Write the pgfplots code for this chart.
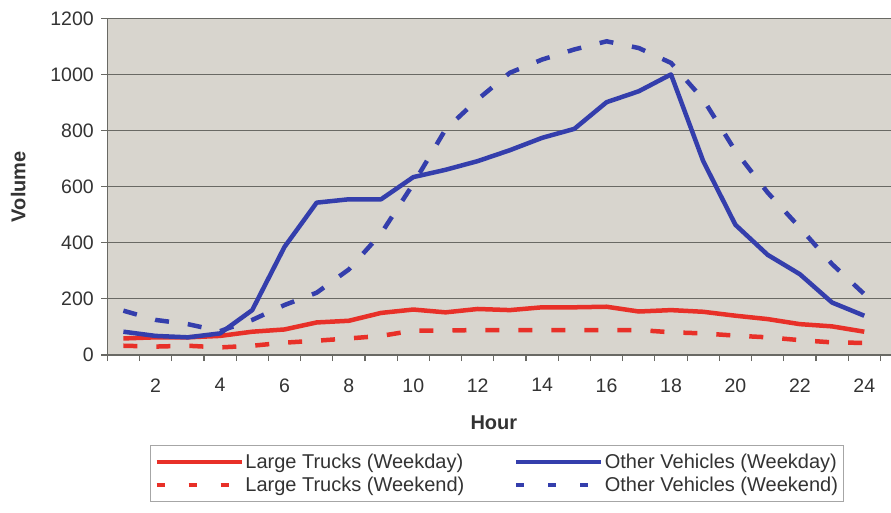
\documentclass[border=0pt]{standalone}
\usepackage{pgfplots}
\pgfplotsset{compat=1.18}
\usepackage{fontspec}
\setmainfont{Liberation Sans}

\definecolor{bgcol}{RGB}{216,213,206}
\definecolor{gridcol}{RGB}{105,105,100}
\definecolor{truckred}{RGB}{232,48,40}
\definecolor{otherblue}{RGB}{52,62,172}

\pgfplotstableread{
hour trkwd trkwe othwd othwe
1  59  33   83 158
2  63  30   68 125
3  63  33   63 110
4  68  27   77  85
5  83  33  160 125
6  91  44  385 178
7  116 51  543 222
8  122 59  555 305
9  150 68  555 433
10 162 87  634 610
11 152 87  660 804
12 164 89  691 911
13 160 89  730 1006
14 170 89  774 1053
15 170 89  806 1089
16 172 89  901 1118
17 155 89  940 1094
18 160 81  1000 1041
19 154 77  691 911
20 140 69  464 727
21 128 63  357 579
22 110 53  288 454
23 102 45  187 324
24 83  43  140 217
}\traffic

\begin{document}
\begin{tikzpicture}
\begin{axis}[
    name=ax,
    scale only axis,
    width=783.7pt, height=336.7pt,
    xmin=0.5, xmax=24.83,
    ymin=0, ymax=1200,
    ytick={0,200,...,1200},
    xtick={2,4,...,24},
    minor xtick={0.5,1.5,...,24.5},
    major x tick style={draw=none},
    tick align=outside,
    major tick length=6pt,
    minor tick length=6pt,
    tick style={gridcol, line width=1.2pt},
    axis x line*=bottom,
    axis y line*=left,
    axis line style={gridcol, line width=1.2pt},
    axis background/.style={fill=bgcol},
    ymajorgrids,
    grid style={gridcol, line width=1.2pt},
    /pgf/number format/assume math mode=true,
    /pgf/number format/1000 sep={},
    ticklabel style={font=\fontsize{19.5}{22}\selectfont, text=black!80},
    yticklabel style={xshift=-4pt},
    xticklabel style={yshift=-14pt},
    xlabel={Hour},
    ylabel={Volume},
    every axis x label/.style={at={(axis cs:12.5,0)}, anchor=center, yshift=-68pt, font=\fontsize{20}{24}\selectfont\bfseries, text=black!80},
    every axis y label/.style={at={(rel axis cs:0,0.5)}, anchor=center, xshift=-89pt, rotate=90, font=\fontsize{20}{24}\selectfont\bfseries, text=black!80},
    legend columns=2,
    legend cell align=left,
    legend image code/.code={\draw[#1] (0pt,0pt) -- (85pt,0pt);},
    legend style={at={(rel axis cs:0,0)}, anchor=north west, xshift=42.7pt, yshift=-90pt,
        draw=gray!70, line width=0.8pt, inner xsep=4pt, inner ysep=7pt,
        font=\fontsize{20}{24}\selectfont, text=black!80,
        nodes={inner sep=1.5pt}, row sep=4pt,
        /tikz/column 2/.style={column sep=48pt}},
]
\addlegendimage{truckred, line width=4.5pt}
\addlegendentry{Large Trucks (Weekday)}
\addlegendimage{otherblue, line width=4.5pt}
\addlegendentry{Other Vehicles (Weekday)}
\addlegendimage{truckred, line width=4.5pt, dash pattern=on 8pt off 24pt}
\addlegendentry{Large Trucks (Weekend)}
\addlegendimage{otherblue, line width=4.5pt, dash pattern=on 8pt off 24pt}
\addlegendentry{Other Vehicles (Weekend)}

\addplot[forget plot, truckred, line width=4.5pt, line join=round] table[x=hour, y=trkwd] {\traffic};
\addplot[forget plot, truckred, line width=4.5pt, dash pattern=on 14pt off 19pt] table[x=hour, y=trkwe] {\traffic};
\addplot[forget plot, otherblue, line width=4.5pt, line join=round] table[x=hour, y=othwd] {\traffic};
\addplot[forget plot, otherblue, line width=4.5pt, dash pattern=on 14pt off 19pt] table[x=hour, y=othwe] {\traffic};
\coordinate (bl) at (rel axis cs:0,0);
\end{axis}
\pgfresetboundingbox
\path[use as bounding box] (bl) ++(-107.3pt,-158pt) rectangle ++(891pt,513pt);
\end{tikzpicture}
\end{document}
